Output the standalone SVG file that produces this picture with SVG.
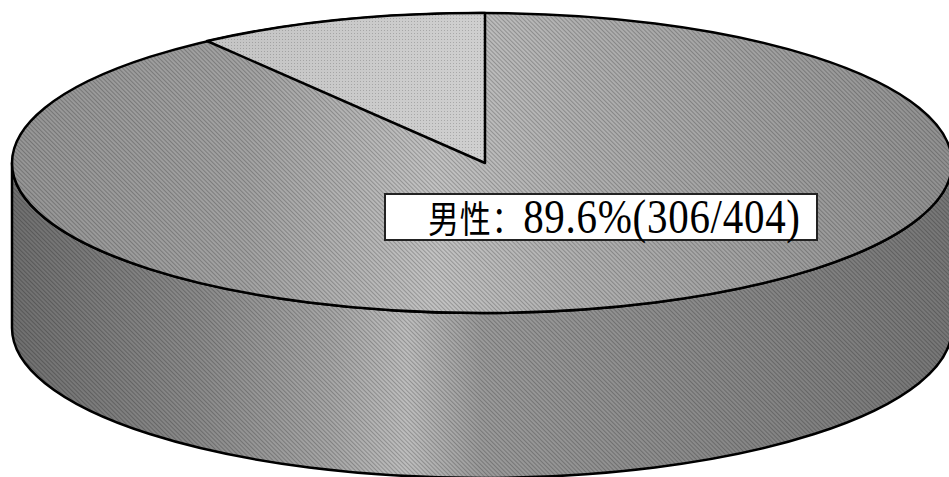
<svg xmlns="http://www.w3.org/2000/svg" width="949" height="477" viewBox="0 0 949 477">
<defs>
<style>
.edge{stroke:#000;stroke-width:2.5;stroke-linejoin:round}
.lbl{font-family:"Liberation Serif","Noto Sans CJK SC",serif;fill:#000}
</style>
<linearGradient id="gSide" x1="0" y1="0" x2="1" y2="0">
<stop offset="0" stop-color="#6f6f6f"/>
<stop offset="0.2" stop-color="#8a8a8a"/>
<stop offset="0.34" stop-color="#a6a6a6"/>
<stop offset="0.42" stop-color="#bdbdbd"/>
<stop offset="0.5" stop-color="#9a9a9a"/>
<stop offset="0.8" stop-color="#858585"/>
<stop offset="1" stop-color="#767676"/>
</linearGradient>
<linearGradient id="gTop" x1="0" y1="0" x2="1" y2="0">
<stop offset="0" stop-color="#959595"/>
<stop offset="0.25" stop-color="#a2a2a2"/>
<stop offset="0.45" stop-color="#c2c2c2"/>
<stop offset="0.6" stop-color="#b0b0b0"/>
<stop offset="0.85" stop-color="#9c9c9c"/>
<stop offset="1" stop-color="#909090"/>
</linearGradient>
<linearGradient id="gFem" x1="0" y1="0" x2="1" y2="0">
<stop offset="0" stop-color="#c4c4c4"/>
<stop offset="1" stop-color="#cfcfcf"/>
</linearGradient>
<pattern id="hatch" width="3" height="3" patternUnits="userSpaceOnUse" patternTransform="rotate(45)">
<rect width="3" height="1" fill="#000" opacity="0.22"/>
</pattern>
<pattern id="dots" width="3" height="3" patternUnits="userSpaceOnUse">
<rect width="1" height="1" fill="#000" opacity="0.18"/>
</pattern>
</defs>
<rect width="949" height="477" fill="#fff"/>
<g id="side">
<path d="M12,163 L12,328 A470,150 0 0,0 952,328 L952,163 A470,150 0 0,1 12,163 Z" fill="url(#gSide)"/>
<path d="M12,163 L12,328 A470,150 0 0,0 952,328 L952,163 A470,150 0 0,1 12,163 Z" fill="url(#hatch)" class="edge"/>
</g>
<g id="slice-male">
<ellipse cx="482" cy="163" rx="470" ry="150" fill="url(#gTop)"/>
<ellipse cx="482" cy="163" rx="470" ry="150" fill="url(#hatch)" class="edge"/>
</g>
<g id="slice-female">
<path d="M485,163 L207,41 A470,150 0 0,1 485,13 Z" fill="url(#gFem)"/>
<path d="M485,163 L207,41 A470,150 0 0,1 485,13 Z" fill="url(#dots)" class="edge"/>
</g>
<g id="label">
<rect x="385" y="194" width="432" height="46" fill="#fff" stroke="#222" stroke-width="2"/>
<g transform="translate(0,233) scale(1,1.2)">
<text class="lbl" x="428" y="0" textLength="372" lengthAdjust="spacing"><tspan font-size="31">男性：</tspan><tspan font-size="41">89.6%(306/404)</tspan></text>
</g>
</g>
</svg>
